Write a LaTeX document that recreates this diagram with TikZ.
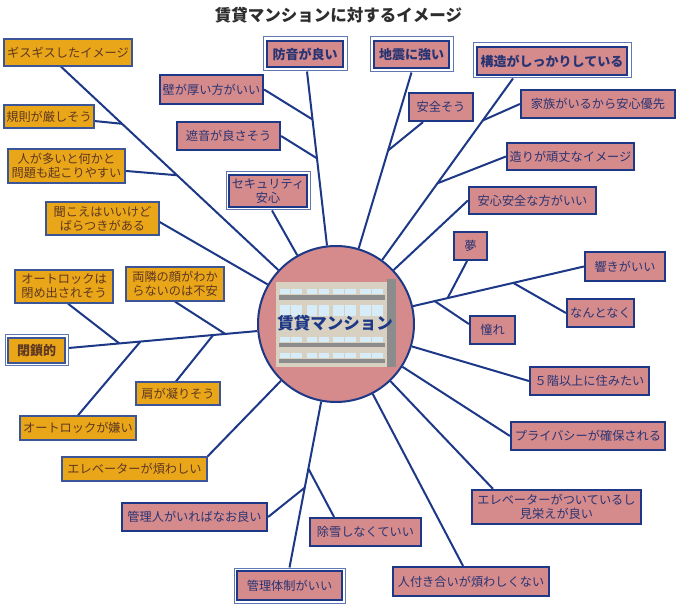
\documentclass[tikz,border=0pt]{standalone}
\usepackage{fontspec}
\setmainfont{Noto Sans CJK JP}
\usetikzlibrary{calc}
\definecolor{pinkfill}{RGB}{213,138,140}
\definecolor{navy}{RGB}{28,56,135}
\definecolor{ptext}{RGB}{40,52,115}
\definecolor{orfill}{RGB}{232,166,24}
\definecolor{oborder}{RGB}{60,85,150}
\definecolor{otext}{RGB}{95,55,35}
\definecolor{outblue}{RGB}{95,120,180}
\definecolor{bodybeige}{RGB}{216,209,194}
\definecolor{bargray}{RGB}{140,140,140}
\definecolor{winblue}{RGB}{214,236,248}
\definecolor{titlegray}{RGB}{45,45,45}
\pgfdeclarelayer{bg}
\pgfdeclarelayer{paper}
\pgfsetlayers{paper,bg,main}
\newcommand\bx[7]{\node[#6, minimum width={(#4)-(#2)}, minimum height={(#5)-(#3)}] (#1) at ({((#2)+(#4))/2},{((#3)+(#5))/2}) {#7};}
\begin{document}
\begin{tikzpicture}[x=1pt,y=-1pt,
  pbox/.style={draw=navy, line width=2.2pt, fill=pinkfill, text=ptext, inner sep=0pt, align=center, font=\fontsize{12.2}{14}\selectfont},
  obox/.style={draw=oborder, line width=1.3pt, fill=orfill, text=otext, inner sep=0pt, align=center, font=\fontsize{12.2}{14}\selectfont},
  mainb/.style={font=\bfseries\fontsize{13}{15}\selectfont},
  outerbox/.style={draw=outblue, line width=1pt, fill=white, inner sep=0pt},
  conn/.style={draw=navy, line width=2pt}]
\useasboundingbox (0,0) rectangle (678,612);
\begin{pgfonlayer}{paper}
\fill[white] (0,0) rectangle (678,612);
\end{pgfonlayer}
% title
\node[font=\bfseries\fontsize{16.5}{18}\selectfont, text=titlegray] (title) at (338.5,15) {賃貸マンションに対するイメージ};
% centre circle with building
\node[circle, draw=navy, line width=2pt, fill=pinkfill, minimum size=156, inner sep=0pt] (circ) at (336,324) {};
\fill[bodybeige] (276,282) rectangle (387,367);
\fill[bargray] (387,279) rectangle (396,367);
\foreach \ya/\yb in {289.3/294.3, 305/316, 336.7/341.7, 352.7/357.7} {
  \foreach \xa/\xb in {280/301.7, 306.7/329.3, 333.3/356, 360/382.7} {
    \fill[winblue] (\xa,\ya) rectangle ({(\xa+\xb)/2-0.6},\yb);
    \fill[winblue] ({(\xa+\xb)/2+0.6},\ya) rectangle (\xb,\yb);
  }
}
\foreach \ya/\yb in {295/300, 343.3/347.3, 359.3/363.3} {
  \fill[bargray] (279,\ya) rectangle (385,\yb);
}
\node[font=\bfseries\fontsize{16.5}{18}\selectfont, text=navy] (ctext) at (335,323) {賃貸マンション};
% orange boxes
\bx{gisu}{4}{39}{132}{66}{obox}{ギスギスしたイメージ}
\bx{kisoku}{4}{105}{94}{128}{obox}{規則が厳しそう}
\bx{hito}{8}{149}{125}{183}{obox}{人が多いと何かと\\問題も起こりやすい}
\bx{kikoe}{46}{202}{159}{235}{obox}{聞こえはいいけど\\ばらつきがある}
\bx{heisaO}{5}{335}{68}{366}{outerbox}{}
\bx{heisa}{8}{338}{65}{363}{obox,mainb}{閉鎖的}
\bx{olock1}{15}{270}{113}{303}{obox}{オートロックは\\閉め出されそう}
\bx{ryou}{126}{267}{224}{301}{obox}{両隣の顔がわか\\らないのは不安}
\bx{kata}{136}{382}{220}{405}{obox}{肩が凝りそう}
\bx{olock2}{20}{416}{136}{440}{obox}{オートロックが嫌い}
\bx{elev1}{62}{457}{207}{481}{obox}{エレベーターが煩わしい}
% pink boxes
\bx{kanrinin}{122}{503}{267}{531}{pbox}{管理人がいればなお良い}
\bx{josetsu}{310}{518}{421}{546}{pbox}{除雪しなくていい}
\bx{kanriO}{234}{568}{345}{603}{outerbox}{}
\bx{kanri}{237}{571}{342}{600}{pbox}{管理体制がいい}
\bx{hitozuki}{393}{567}{549}{596}{pbox}{人付き合いが煩わしくない}
\bx{elev2}{472}{490}{641}{524}{pbox}{エレベーターがついているし\\見栄えが良い}
\bx{priv}{511}{422}{665}{450}{pbox}{プライバシーが確保される}
\bx{go}{530}{367}{649}{395}{pbox}{５階以上に住みたい}
\bx{akogare}{470}{316}{515}{344}{pbox}{憧れ}
\bx{nanto}{567}{299}{634}{327}{pbox}{なんとなく}
\bx{hibiki}{585}{252}{665}{281}{pbox}{響きがいい}
\bx{yume}{454}{232}{487}{260}{pbox}{夢}
\bx{anshin}{469}{187}{596}{214}{pbox}{安心安全な方がいい}
\bx{tsukuri}{507}{143}{634}{170}{pbox}{造りが頑丈なイメージ}
\bx{kazoku}{521}{90}{675}{118}{pbox}{家族がいるから安心優先}
\bx{kouzouO}{473}{43}{631}{78}{outerbox}{}
\bx{kouzou}{477}{47}{627}{75}{pbox,mainb}{構造がしっかりしている}
\bx{jishinO}{370}{37}{453}{72}{outerbox}{}
\bx{jishin}{374}{41}{449}{68}{pbox,mainb}{地震に強い}
\bx{anzen}{409}{93}{473}{121}{pbox}{安全そう}
\bx{bouonO}{263}{37}{347}{71}{outerbox}{}
\bx{bouon}{267}{41}{343}{67}{pbox,mainb}{防音が良い}
\bx{kabe}{160}{75}{263}{104}{pbox}{壁が厚い方がいい}
\bx{shaon}{177}{122}{280}{150}{pbox}{遮音が良さそう}
\bx{secuO}{226}{172}{310}{210}{outerbox}{}
\bx{secu}{229}{175}{307}{207}{pbox}{セキュリティ\\安心}
% connectors
\begin{pgfonlayer}{bg}
\coordinate (gisuS) at ([xshift=-7pt]gisu.south);
\coordinate (jKisoku) at ($(gisuS)!0.222!(circ.center)$);
\coordinate (jHito) at ($(gisuS)!0.422!(circ.center)$);
\draw[conn] (gisuS) -- (circ);
\draw[conn] (jKisoku) -- (kisoku);
\draw[conn] (jHito) -- (hito);
\draw[conn] ([yshift=-3.5pt]kikoe.east) -- (circ);
\coordinate (heisaS) at ([yshift=2.5pt]heisaO.east);
\coordinate (jOl1) at ($(heisaS)!0.19!(circ.center)$);
\coordinate (jOl2) at ($(heisaS)!0.269!(circ.center)$);
\coordinate (jKata) at ($(heisaS)!0.541!(circ.center)$);
\coordinate (jRyou) at ($(heisaS)!0.586!(circ.center)$);
\draw[conn] (heisaS) -- (circ);
\draw[conn] ([xshift=4pt]olock1.south) -- (jOl1);
\draw[conn] (ryou.south) -- (jRyou);
\draw[conn] ([xshift=-2pt]kata.north) -- (jKata);
\draw[conn] (olock2.north) -- (jOl2);
\draw[conn] (elev1.north east) -- (circ);
\coordinate (kanriS) at (kanriO.north);
\coordinate (jKanrinin) at ($(kanriS)!0.328!(circ.center)$);
\coordinate (jJosetsu) at ($(kanriS)!0.406!(circ.center)$);
\draw[conn] (kanriS) -- (circ);
\draw[conn] (kanrinin.east) -- (jKanrinin);
\draw[conn] ([xshift=-31.5pt]josetsu.north) -- (jJosetsu);
\draw[conn] ([xshift=-8pt]hitozuki.north) -- (circ);
\draw[conn] ([xshift=-63.5pt]elev2.north) -- (circ);
\draw[conn] (priv.west) -- (circ);
\draw[conn] (go.west) -- (circ);
\coordinate (hibikiS) at (hibiki.west);
\coordinate (jNanto) at ($(hibikiS)!0.285!(circ.center)$);
\coordinate (jYume) at ($(hibikiS)!0.55!(circ.center)$);
\coordinate (jAko) at ($(hibikiS)!0.602!(circ.center)$);
\draw[conn] (hibikiS) -- (circ);
\draw[conn] (nanto.west) -- (jNanto);
\draw[conn] ([xshift=-3.5pt]yume.south) -- (jYume);
\draw[conn] ([yshift=6pt]akogare.west) -- (jAko);
\draw[conn] (anshin.west) -- (circ);
\coordinate (kouzouS) at ([xshift=-39pt]kouzouO.south);
\coordinate (jKazoku) at ($(kouzouS)!0.171!(circ.center)$);
\coordinate (jTsukuri) at ($(kouzouS)!0.427!(circ.center)$);
\draw[conn] (kouzouS) -- (circ);
\draw[conn] (kazoku.west) -- (jKazoku);
\draw[conn] (tsukuri.west) -- (jTsukuri);
\coordinate (jishinS) at (jishinO.south);
\coordinate (jAnzen) at ($(jishinS)!0.31!(circ.center)$);
\draw[conn] (jishinS) -- (circ);
\draw[conn] ([xshift=-18pt]anzen.south) -- (jAnzen);
\coordinate (bouonS) at ([xshift=2pt]bouonO.south);
\coordinate (jKabe) at ($(bouonS)!0.19!(circ.center)$);
\coordinate (jShaon) at ($(bouonS)!0.344!(circ.center)$);
\draw[conn] (bouonS) -- (circ);
\draw[conn] (kabe.east) -- (jKabe);
\draw[conn] (shaon.east) -- (jShaon);
\draw[conn] ([xshift=4pt]secuO.south) -- (circ);
\end{pgfonlayer}
\end{tikzpicture}
\end{document}
